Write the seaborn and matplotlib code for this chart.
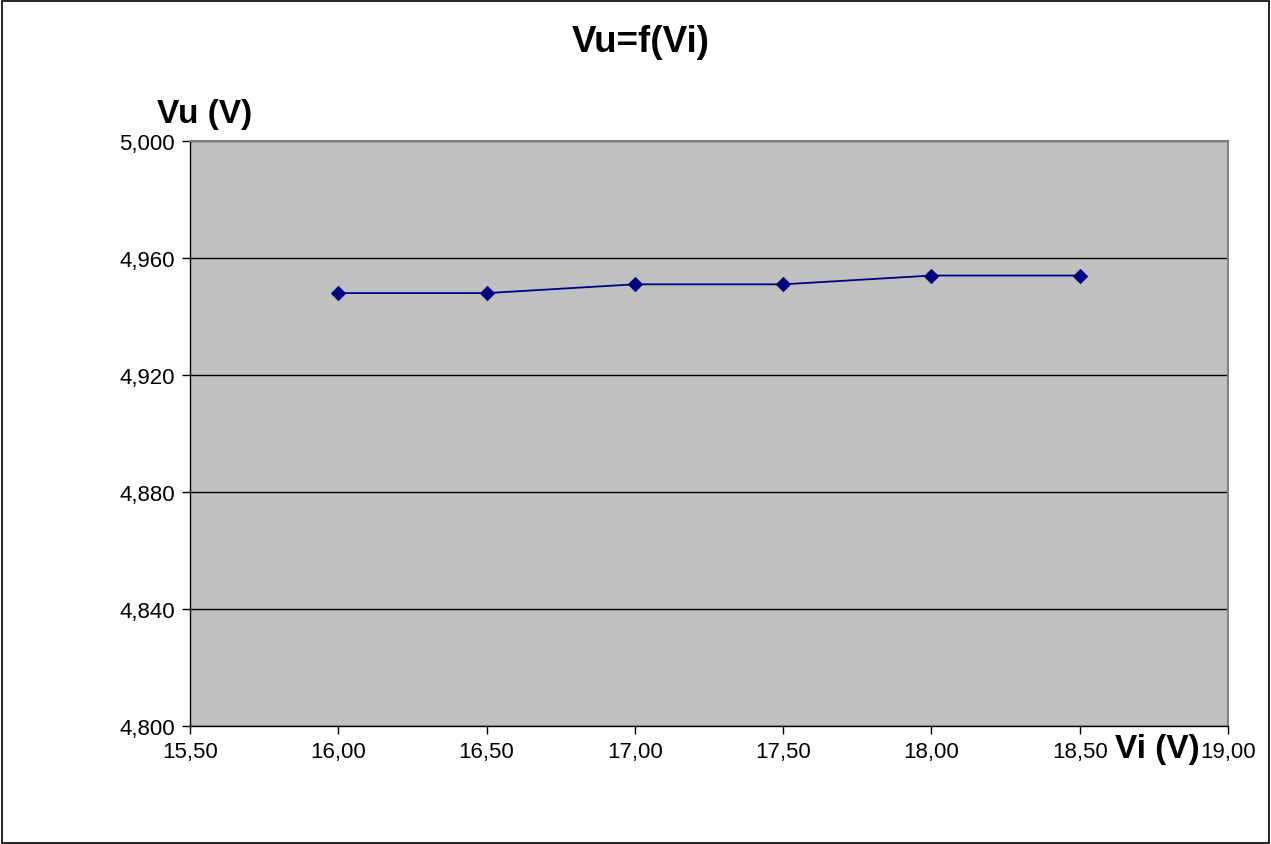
import matplotlib
matplotlib.use("Agg")
import matplotlib.pyplot as plt
import seaborn as sns
import pandas as pd
from matplotlib.ticker import FuncFormatter, MultipleLocator
from matplotlib.patches import Rectangle

vi = [16.0, 16.5, 17.0, 17.5, 18.0, 18.5]
vu = [4.948, 4.948, 4.951, 4.951, 4.954, 4.954]
title = "Vu=f(Vi)"
xlabel = "Vi (V)"
ylabel = "Vu (V)"

sns.set_style("white")
plt.rcParams['font.family'] = ['Liberation Sans', 'DejaVu Sans']
plt.rcParams['text.color'] = 'black'
plt.rcParams['xtick.color'] = 'black'
plt.rcParams['ytick.color'] = 'black'
plt.rcParams['axes.labelcolor'] = 'black'

fig = plt.figure(figsize=(12.71, 8.45), dpi=100)
ax = fig.add_axes([190/1271, 1-727/845, (1228-190)/1271, (727-142)/845])
ax.set_facecolor('#C0C0C0')

df = pd.DataFrame({"Vi": vi, "Vu": vu})
sns.lineplot(data=df, x="Vi", y="Vu", ax=ax, color='#000080', marker='D',
             markersize=7, markeredgecolor='#000080', linewidth=1.3)

ax.set_xlim(15.5, 19.0)
ax.set_ylim(4.8, 5.0)
ax.xaxis.set_major_locator(MultipleLocator(0.5))
ax.yaxis.set_major_locator(MultipleLocator(0.04))
ax.xaxis.set_major_formatter(FuncFormatter(lambda v, p: f"{v:.2f}".replace('.', ',')))
ax.yaxis.set_major_formatter(FuncFormatter(lambda v, p: f"{v:.3f}".replace('.', ',')))
ax.grid(axis='y', color='black', linewidth=1)
ax.grid(axis='x', visible=False)
ax.set_axisbelow(True)
ax.tick_params(axis='both', direction='out', length=6, width=1, color='black',
               labelcolor='black', labelsize=16, pad=5, left=True, bottom=True)
ax.set_xlabel("")
ax.set_ylabel("")
for s in ['left', 'bottom']:
    ax.spines[s].set_color('black')
    ax.spines[s].set_linewidth(1)
for s in ['top', 'right']:
    ax.spines[s].set_color('#808080')
    ax.spines[s].set_linewidth(1.5)

fig.text(641/1271, 1-42/845, title, ha='center', va='center', fontsize=26.5,
         fontweight='bold', color='black')
fig.text(205/1271, 1-115/845, ylabel, ha='center', va='center', fontsize=24,
         fontweight='bold', color='black')
fig.text(1157/1271, 1-750/845, xlabel, ha='center', va='center', fontsize=24,
         fontweight='bold', color='black')

fig.patches.append(Rectangle((2/1271, 1/845), 1267/1271, 842/845, transform=fig.transFigure,
                             fill=False, edgecolor='black', linewidth=1.2))

fig.savefig("out.png", dpi=100)
